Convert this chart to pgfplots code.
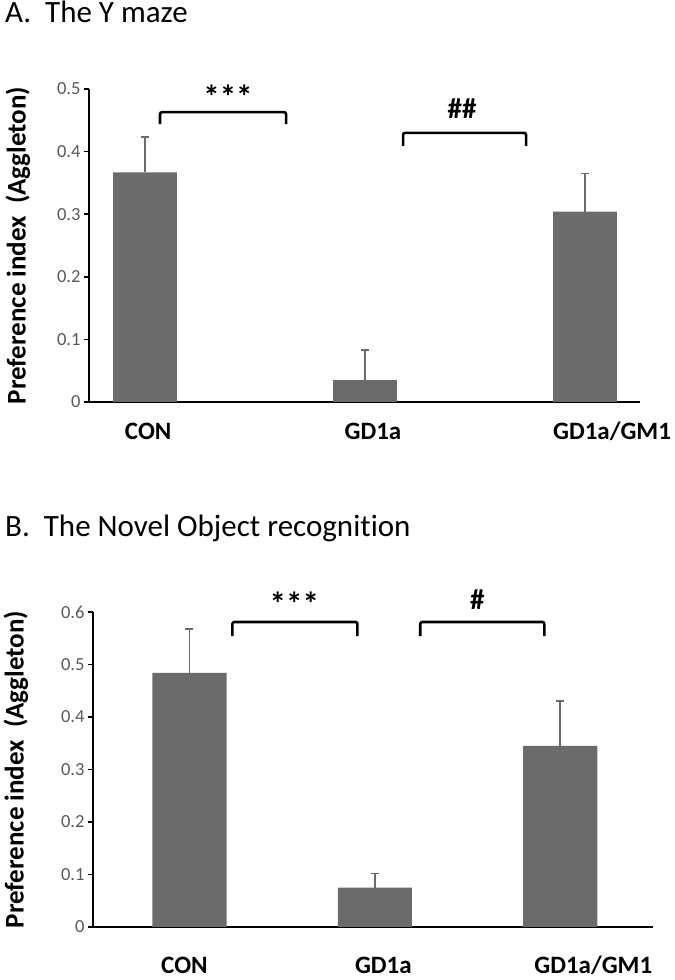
\documentclass[border=0pt]{standalone}
\usepackage{pgfplots}
\usepackage{pgfplotstable}
\pgfplotsset{compat=1.18}
\usepackage{fontspec}
\setmainfont{Carlito}[Ligatures={NoCommon,NoContextual}]
\definecolor{bargray}{HTML}{6B6B6B}
\definecolor{tickgray}{HTML}{595959}

\pgfplotstableread{
x y err
0 0.367 0.056
1 0.035 0.048
2 0.304 0.061
}\dataA
\pgfplotstableread{
x y err
0 0.484 0.083
1 0.075 0.027
2 0.345 0.085
}\dataB

\tikzset{
  bracket/.style={line width=2.6bp, rounded corners=2bp},
  sig/.style={font=\fontsize{33bp}{36bp}\selectfont\bfseries},
  hsig/.style={font=\fontsize{29bp}{32bp}\selectfont\bfseries},
}
\pgfplotsset{
  panel/.style={
    scale only axis, clip=false,
    axis x line=bottom, axis y line=left,
    axis line style={-},
    x axis line style={line width=2.6bp},
    y axis line style={line width=2bp},
    ymin=0, ytick distance=0.1,
    xtick style={draw=none},
    ytick style={line width=1.6bp, black},
    tick align=outside, major tick length=5bp,
    yticklabel style={font=\fontsize{18.5bp}{22bp}\selectfont, text=tickgray,
      /pgf/number format/.cd, fixed, precision=1, assume math mode=true},
    xticklabel style={font=\fontsize{25bp}{28bp}\selectfont\bfseries, anchor=base, inner sep=0pt},
    ylabel={Preference index\ \ (Aggleton)},
    ylabel style={font=\fontsize{27bp}{30bp}\selectfont\bfseries, anchor=center},
    xticklabels={CON, GD1a, GD1a/GM1},
  },
  bars/.style={ybar, fill=bargray, draw=none,
    error bars/.cd, y dir=plus, y explicit,
    error bar style={line width=1.8bp, bargray},
    error mark options={rotate=90, mark size=4bp, line width=1.8bp, bargray},
    /pgfplots/.cd},
}

\begin{document}
\begin{tikzpicture}
\path[use as bounding box] (0,0) rectangle (675bp,980bp);
\node[anchor=base west, inner sep=0, font=\fontsize{31bp}{36bp}\selectfont] at (5bp,957bp) {A.\ \ The Y maze};
\node[anchor=base west, inner sep=0, font=\fontsize{31bp}{36bp}\selectfont] at (5bp,443bp) {B.\ \ The Novel Object recognition};

\begin{axis}[panel, at={(89bp,578bp)}, anchor=south west,
  width=551bp, height=313bp,
  xmin=-0.255, xmax=2.25, ymax=0.5,
  xtick={0.014,1.036,2.123},
  xticklabel style={yshift=-33bp},
  ylabel style={at={(axis description cs:-0.129,0.5)}}]
\addplot[bar width=0.29, bars] table[x=x, y=y, y error=err] {\dataA};
\draw[bracket] (axis cs:0.068,0.444) -- (axis cs:0.068,0.463) -- (axis cs:0.641,0.463) -- (axis cs:0.641,0.444);
\node[sig] at (axis cs:0.377,0.488) {***};
\draw[bracket] (axis cs:1.173,0.409) -- (axis cs:1.173,0.430) -- (axis cs:1.732,0.430) -- (axis cs:1.732,0.409);
\node[hsig] at (axis cs:1.441,0.468) {\#\#};
\end{axis}

\begin{axis}[panel, at={(93bp,53bp)}, anchor=south west,
  width=560bp, height=315bp,
  xmin=-0.52, xmax=2.50, ymax=0.6,
  xtick={-0.027,1.046,2.178},
  xticklabel style={yshift=-41bp},
  ylabel style={at={(axis description cs:-0.1375,0.5)}}]
\addplot[bar width=0.40, bars] table[x=x, y=y, y error=err] {\dataB};
\draw[bracket] (axis cs:0.232,0.554) -- (axis cs:0.232,0.581) -- (axis cs:0.906,0.581) -- (axis cs:0.906,0.554);
\node[sig] at (axis cs:0.566,0.615) {***};
\draw[bracket] (axis cs:1.245,0.554) -- (axis cs:1.245,0.581) -- (axis cs:1.914,0.581) -- (axis cs:1.914,0.554);
\node[hsig] at (axis cs:1.553,0.623) {\#};
\end{axis}
\end{tikzpicture}
\end{document}
